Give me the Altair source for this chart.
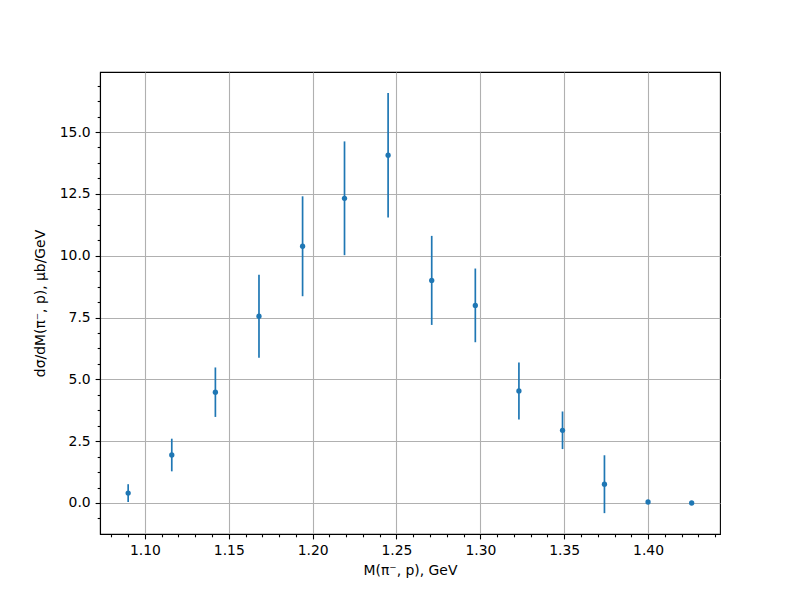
import altair as alt
import pandas as pd

# ---- data ----
mass = [1.090, 1.116, 1.142, 1.168, 1.194, 1.219, 1.245, 1.271, 1.297, 1.323, 1.349, 1.374, 1.400, 1.426]
xsec = [0.40, 1.94, 4.48, 7.55, 10.38, 12.32, 14.06, 9.00, 7.99, 4.53, 2.94, 0.76, 0.04, 0.00]
err = [0.36, 0.66, 1.00, 1.68, 2.02, 2.30, 2.52, 1.80, 1.49, 1.15, 0.76, 1.17, 0.08, 0.03]

x_major_step = 0.05
x_ticks = [round(1.08 + 0.01 * i, 2) for i in range(37)]
y_major_step = 2.5
y_ticks = [round(-0.625 + 0.625 * i, 3) for i in range(29)]

x_title = "M(π⁻, p), GeV"
y_title = "dσ/dM(π⁻, p), μb/GeV"

df = pd.DataFrame({"mass": mass, "xsec": xsec, "err": err})
df["lo"] = df["xsec"] - df["err"]
df["hi"] = df["xsec"] + df["err"]

BLUE = "#1f77b4"
FONT = "DejaVu Sans"

x_test = f"abs(datum.value/{x_major_step} - round(datum.value/{x_major_step})) < 0.001"
y_test = f"abs(datum.value/{y_major_step} - round(datum.value/{y_major_step})) < 0.001"

xscale = alt.Scale(domain=[1.0732, 1.4429], nice=False, zero=False)
yscale = alt.Scale(domain=[-1.2534, 17.426], nice=False, zero=False)

common_axis = dict(
    labelFont=FONT, labelFontSize=13.9, labelColor="black",
    titleFont=FONT, titleFontSize=13.9, titleFontWeight="normal", titleColor="black",
    domainColor="black", domainWidth=1.1,
    tickColor="black", tickWidth=1.1,
    gridColor="#b0b0b0", gridWidth=1.1,
    labelPadding=4.9, tickCount=200,
)

xaxis = alt.Axis(
    title=x_title, values=x_ticks,
    labelExpr=f"({x_test}) ? format(datum.value, '.2f') : ''",
    tickSize={"condition": {"test": x_test, "value": 4.9}, "value": 2.8},
    gridOpacity={"condition": {"test": x_test, "value": 1}, "value": 0},
    titlePadding=6, labelFlush=False, labelOverlap=False,
    **common_axis,
)
yaxis = alt.Axis(
    title=y_title, values=y_ticks,
    labelExpr=f"({y_test}) ? format(datum.value, '.1f') : ''",
    tickSize={"condition": {"test": y_test, "value": 4.9}, "value": 2.8},
    gridOpacity={"condition": {"test": y_test, "value": 1}, "value": 0},
    titlePadding=12, labelFlush=False, labelOverlap=False,
    **common_axis,
)

base = alt.Chart(df)
bars = base.mark_rule(color=BLUE, strokeWidth=1.7).encode(
    x=alt.X("mass:Q", scale=xscale, axis=xaxis),
    y=alt.Y("lo:Q", scale=yscale, axis=yaxis),
    y2="hi:Q",
)
points = base.mark_circle(color=BLUE, size=28, opacity=1).encode(
    x=alt.X("mass:Q", scale=xscale),
    y=alt.Y("xsec:Q", scale=yscale),
)

chart = (
    alt.layer(bars, points)
    .properties(
        width=620, height=462,
        padding={"left": 92, "top": 64, "right": 72, "bottom": 50},
        autosize=alt.AutoSizeParams(type="none"),
    )
    .configure_view(stroke="black", strokeWidth=1.1)
)

chart.save("out.html", embed_options={"renderer": "svg", "actions": False})
